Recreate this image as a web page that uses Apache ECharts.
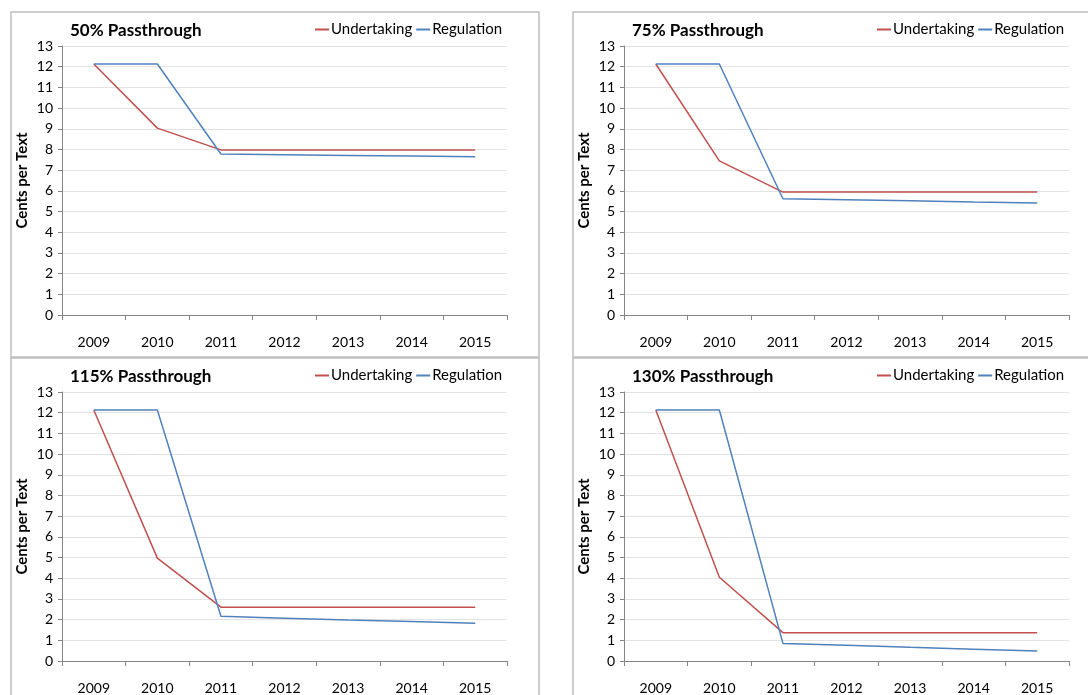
<!DOCTYPE html>
<html>
<head>
<meta charset="utf-8">
<script src="https://cdn.jsdelivr.net/npm/echarts@6/dist/echarts.min.js"></script>
<style>
  html, body { margin: 0; padding: 0; background: #fff; }
  #chart { width: 1088px; height: 695px; }
</style>
</head>
<body>
<div id="chart"></div>
<script>
// data
var years = ['2009', '2010', '2011', '2012', '2013', '2014', '2015'];
var panelTitles = ['50% Passthrough', '75% Passthrough', '115% Passthrough', '130% Passthrough'];
var undertaking50 = [12.13, 9.03, 7.98, 7.98, 7.98, 7.98, 7.98];
var regulation50 = [12.13, 12.13, 7.78, 7.75, 7.71, 7.68, 7.65];
var undertaking75 = [12.13, 7.45, 5.94, 5.94, 5.94, 5.94, 5.94];
var regulation75 = [12.13, 12.13, 5.62, 5.57, 5.52, 5.46, 5.41];
var undertaking115 = [12.13, 4.97, 2.6, 2.6, 2.6, 2.6, 2.6];
var regulation115 = [12.13, 12.13, 2.16, 2.07, 1.98, 1.91, 1.83];
var undertaking130 = [12.13, 4.05, 1.37, 1.37, 1.37, 1.37, 1.37];
var regulation130 = [12.13, 12.13, 0.85, 0.76, 0.66, 0.57, 0.48];

var undertakingData = [undertaking50, undertaking75, undertaking115, undertaking130];
var regulationData = [regulation50, regulation75, regulation115, regulation130];

var RED = '#c0504d';
var BLUE = '#4f81bd';
var FONT = 'Lato';

// panel boxes: [left, top] of plot area
var plots = [[62, 46], [624, 46], [62, 392], [624, 392]];
var boxes = [[11, 12, 528, 345], [573, 12, 530, 345], [11, 358, 528, 350], [573, 358, 530, 350]];

var myChart = echarts.init(document.getElementById('chart'));

var grids = [], xAxes = [], yAxes = [], series = [], titles = [], legends = [], graphics = [];

boxes.forEach(function (b) {
  graphics.push({
    type: 'rect', shape: { x: b[0], y: b[1], width: b[2], height: b[3] },
    style: { fill: 'none', stroke: '#bfbfbf', lineWidth: 1.5 }, silent: true
  });
});

plots.forEach(function (p, i) {
  grids.push({ left: p[0], top: p[1], width: 445, height: 269 });
  xAxes.push({
    type: 'category', gridIndex: i, data: years, boundaryGap: true,
    axisLine: { lineStyle: { color: '#868686' } },
    axisTick: { show: true, length: 5, lineStyle: { color: '#868686' } },
    axisLabel: { color: '#000', fontFamily: FONT, fontSize: 14, margin: 20 }
  });
  yAxes.push({
    type: 'value', gridIndex: i, min: 0, max: 13, interval: 1,
    name: 'Cents per Text', nameLocation: 'middle', nameRotate: 90, nameGap: 32,
    nameTextStyle: { color: '#000', fontFamily: FONT, fontSize: 15, fontWeight: 'bold' },
    axisLine: { show: true, lineStyle: { color: '#868686' } },
    axisTick: { show: true, length: 4, lineStyle: { color: '#868686' } },
    axisLabel: { color: '#000', fontFamily: FONT, fontSize: 14, margin: 9 },
    splitLine: { lineStyle: { color: '#e3e3e3' } }
  });
  titles.push({
    text: panelTitles[i], left: p[0] + 3, top: p[1] - 29,
    textStyle: { fontFamily: FONT, fontSize: 17, fontWeight: 'bold', color: '#000' }
  });
  legends.push({
    left: p[0] + 248, top: p[1] - 29, itemWidth: 14, itemHeight: 2, itemGap: 4,
    icon: 'rect',
    data: [
      { name: 'Undertaking' + i, itemStyle: { color: RED } },
      { name: 'Regulation' + i, itemStyle: { color: BLUE } }
    ],
    formatter: function (n) { return n.replace(/\d$/, ''); },
    textStyle: { fontFamily: FONT, fontSize: 15, color: '#000', padding: [0, 0, 0, -3] }
  });
  series.push({
    name: 'Undertaking' + i, type: 'line', xAxisIndex: i, yAxisIndex: i,
    data: undertakingData[i], symbol: 'none', lineStyle: { color: RED, width: 1.5 },
    itemStyle: { color: RED }, animation: false
  });
  series.push({
    name: 'Regulation' + i, type: 'line', xAxisIndex: i, yAxisIndex: i,
    data: regulationData[i], symbol: 'none', lineStyle: { color: BLUE, width: 1.5 },
    itemStyle: { color: BLUE }, animation: false
  });
});

myChart.setOption({
  animation: false,
  title: titles,
  legend: legends,
  grid: grids,
  xAxis: xAxes,
  yAxis: yAxes,
  series: series,
  graphic: graphics
});
</script>
</body>
</html>
